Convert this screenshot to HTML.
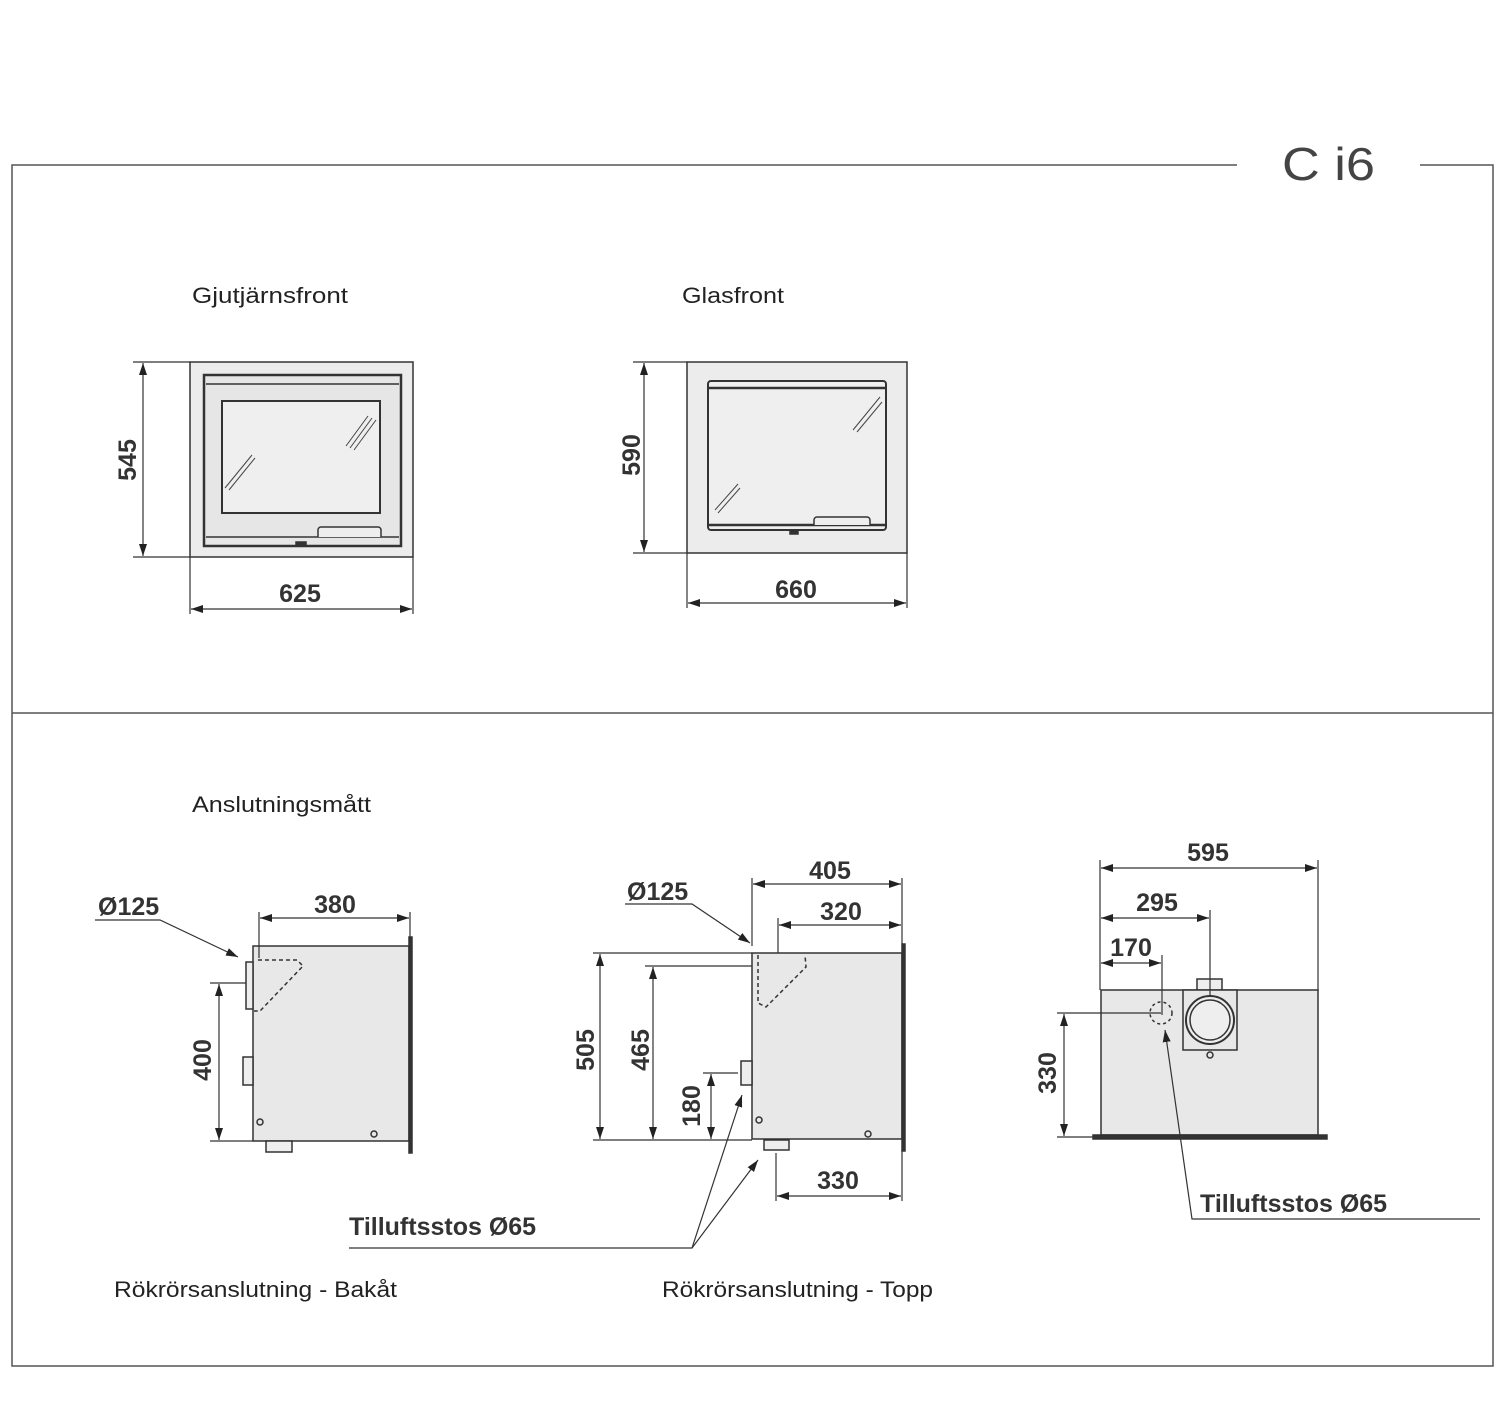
<!DOCTYPE html>
<html><head><meta charset="utf-8"><style>
html,body{margin:0;padding:0;background:#fff;}
svg{display:block;}
text{font-family:"Liberation Sans","DejaVu Sans",sans-serif;fill:#222;}
.lbl{font-size:22px;}
.dim{font-size:25px;font-weight:bold;fill:#333;}
</style></head><body>
<svg width="1500" height="1427" viewBox="0 0 1500 1427" xmlns="http://www.w3.org/2000/svg">
<defs>
<marker id="a" viewBox="0 0 12 8" refX="12" refY="4" markerWidth="12" markerHeight="8" orient="auto-start-reverse" markerUnits="userSpaceOnUse"><path d="M0,0 L12,4 L0,8 Z" fill="#222"/></marker>
</defs>
<g stroke="#555" stroke-width="1.5" fill="none">
<polyline points="1237,165 12,165 12,1366 1493,1366 1493,165 1420,165"/>
<line x1="12" y1="713" x2="1493" y2="713"/>
</g>
<text x="1282" y="180" textLength="93" lengthAdjust="spacingAndGlyphs" style="font-size:46px;font-weight:300;fill:#444">C i6</text>

<text class="lbl" x="192" y="303" textLength="156" lengthAdjust="spacingAndGlyphs">Gjutjärnsfront</text>
<text class="lbl" x="682" y="303" textLength="102" lengthAdjust="spacingAndGlyphs">Glasfront</text>
<text class="lbl" x="192" y="812" textLength="179" lengthAdjust="spacingAndGlyphs">Anslutningsmått</text>
<text class="lbl" x="114" y="1297" textLength="283" lengthAdjust="spacingAndGlyphs">Rökrörsanslutning - Bakåt</text>
<text class="lbl" x="662" y="1297" textLength="271" lengthAdjust="spacingAndGlyphs">Rökrörsanslutning - Topp</text>

<!-- Front 1 -->
<g stroke="#333" stroke-width="1.5">
<rect x="190" y="362" width="223" height="195" fill="#ececec"/>
<rect x="204" y="375" width="197" height="171" fill="#e6e6e6" stroke-width="2.5"/>
<line x1="206" y1="384" x2="399" y2="384"/>
<line x1="206" y1="537" x2="399" y2="537"/>
<rect x="222" y="401" width="158" height="112" fill="#efefef" stroke-width="2"/>
<path d="M318,537 V530 a3,3 0 0 1 3,-3 H378 a3,3 0 0 1 3,3 V537" fill="#eee"/>
<rect x="296" y="542" width="10" height="4" fill="#333"/>
</g>
<g stroke="#444" stroke-width="1"><line x1="350" y1="448" x2="372" y2="418"/><line x1="354" y1="450" x2="376" y2="420"/><line x1="346" y1="446" x2="368" y2="416"/><line x1="225" y1="488" x2="252" y2="455"/><line x1="229" y1="490" x2="255" y2="458"/></g>
<g stroke="#333" stroke-width="1.2" fill="none">
<line x1="133" y1="362" x2="190" y2="362"/><line x1="133" y1="557" x2="190" y2="557"/>
<line x1="143" y1="363" x2="143" y2="556" marker-start="url(#a)" marker-end="url(#a)"/>
<line x1="190" y1="557" x2="190" y2="614"/><line x1="413" y1="557" x2="413" y2="614"/>
<line x1="191" y1="609" x2="412" y2="609" marker-start="url(#a)" marker-end="url(#a)"/>
</g>
<text class="dim" transform="translate(136,460) rotate(-90)" text-anchor="middle">545</text>
<text class="dim" x="300" y="602" text-anchor="middle">625</text>

<!-- Front 2 -->
<g stroke="#333" stroke-width="1.5">
<rect x="687" y="362" width="220" height="191" fill="#ececec"/>
<rect x="708" y="381" width="178" height="149" fill="#efefef" stroke-width="2" rx="3"/>
<line x1="708" y1="388" x2="886" y2="388" stroke-width="2.5"/>
<line x1="708" y1="525" x2="886" y2="525" stroke-width="2.5"/>
<path d="M814,525 V520 a3,3 0 0 1 3,-3 H867 a3,3 0 0 1 3,3 V525" fill="#eee"/>
<rect x="790" y="531" width="8" height="3" fill="#333"/>
</g>
<g stroke="#444" stroke-width="1"><line x1="853" y1="430" x2="880" y2="397"/><line x1="857" y1="432" x2="882" y2="402"/><line x1="715" y1="510" x2="738" y2="484"/><line x1="718" y1="513" x2="740" y2="488"/></g>
<g stroke="#333" stroke-width="1.2" fill="none">
<line x1="633" y1="362" x2="687" y2="362"/><line x1="633" y1="553" x2="687" y2="553"/>
<line x1="644" y1="363" x2="644" y2="552" marker-start="url(#a)" marker-end="url(#a)"/>
<line x1="687" y1="553" x2="687" y2="608"/><line x1="907" y1="553" x2="907" y2="608"/>
<line x1="688" y1="603" x2="906" y2="603" marker-start="url(#a)" marker-end="url(#a)"/>
</g>
<text class="dim" transform="translate(640,455) rotate(-90)" text-anchor="middle">590</text>
<text class="dim" x="796" y="598" text-anchor="middle">660</text>

<!-- Side view 1 -->
<g stroke="#333" stroke-width="1.5">
<rect x="253" y="946" width="156" height="195" fill="#e8e8e8"/>
<rect x="409" y="937" width="3" height="216" fill="#333"/>
<rect x="246" y="962" width="7" height="47" fill="#eee"/>
<rect x="243" y="1057" width="10" height="28" fill="#eee"/>
<rect x="266" y="1141" width="26" height="11" fill="#eee"/>
<circle cx="260" cy="1122" r="3" fill="none"/><circle cx="374" cy="1134" r="3" fill="none"/>
<path d="M258,960 H297 L303,966 L260,1011 H254" fill="none" stroke-dasharray="4,3"/>
</g>
<g stroke="#333" stroke-width="1.2" fill="none">
<line x1="259" y1="912" x2="259" y2="958"/><line x1="410" y1="912" x2="410" y2="937"/>
<line x1="260" y1="918" x2="409" y2="918" marker-start="url(#a)" marker-end="url(#a)"/>
<line x1="210" y1="983" x2="246" y2="983"/><line x1="210" y1="1141" x2="253" y2="1141"/>
<line x1="219" y1="984" x2="219" y2="1140" marker-start="url(#a)" marker-end="url(#a)"/>
<polyline points="95,920 160,920 238,957" marker-end="url(#a)"/>
</g>
<text class="dim" x="335" y="913" text-anchor="middle">380</text>
<text class="dim" x="98" y="915">Ø125</text>
<text class="dim" transform="translate(211,1060) rotate(-90)" text-anchor="middle">400</text>

<!-- Side view 2 -->
<g stroke="#333" stroke-width="1.5">
<rect x="752" y="953" width="150" height="186" fill="#e8e8e8"/>
<rect x="902" y="944" width="3" height="207" fill="#333"/>
<rect x="741" y="1061" width="11" height="24" fill="#eee"/>
<rect x="764" y="1140" width="25" height="10" fill="#eee"/>
<circle cx="759" cy="1120" r="3" fill="none"/><circle cx="868" cy="1134" r="3" fill="none"/>
<path d="M758,955 V1003 L766,1007 L806,967 L805,955" fill="none" stroke-dasharray="4,3"/>
</g>
<g stroke="#333" stroke-width="1.2" fill="none">
<line x1="752" y1="878" x2="752" y2="946"/><line x1="902" y1="878" x2="902" y2="944"/>
<line x1="753" y1="884" x2="901" y2="884" marker-start="url(#a)" marker-end="url(#a)"/>
<line x1="778" y1="918" x2="778" y2="953"/>
<line x1="779" y1="925" x2="901" y2="925" marker-start="url(#a)" marker-end="url(#a)"/>
<line x1="593" y1="953" x2="752" y2="953"/><line x1="593" y1="1140" x2="752" y2="1140"/>
<line x1="600" y1="954" x2="600" y2="1139" marker-start="url(#a)" marker-end="url(#a)"/>
<line x1="645" y1="966" x2="752" y2="966"/>
<line x1="653" y1="967" x2="653" y2="1139" marker-start="url(#a)" marker-end="url(#a)"/>
<line x1="703" y1="1073" x2="738" y2="1073"/>
<line x1="711" y1="1074" x2="711" y2="1139" marker-start="url(#a)" marker-end="url(#a)"/>
<line x1="776" y1="1153" x2="776" y2="1201"/><line x1="902" y1="1151" x2="902" y2="1201"/>
<line x1="777" y1="1196" x2="901" y2="1196" marker-start="url(#a)" marker-end="url(#a)"/>
<polyline points="625,904 692,904 750,943" marker-end="url(#a)"/>
<polyline points="349,1248 692,1248 742,1095" marker-end="url(#a)"/>
<line x1="692" y1="1248" x2="758" y2="1160" marker-end="url(#a)"/>
</g>
<text class="dim" x="830" y="879" text-anchor="middle">405</text>
<text class="dim" x="841" y="920" text-anchor="middle">320</text>
<text class="dim" x="627" y="900">Ø125</text>
<text class="dim" transform="translate(594,1050) rotate(-90)" text-anchor="middle">505</text>
<text class="dim" transform="translate(649,1050) rotate(-90)" text-anchor="middle">465</text>
<text class="dim" transform="translate(700,1106) rotate(-90)" text-anchor="middle">180</text>
<text class="dim" x="838" y="1189" text-anchor="middle">330</text>
<text class="dim" x="349" y="1235">Tilluftsstos Ø65</text>

<!-- Top view right -->
<g stroke="#333" stroke-width="1.5">
<rect x="1101" y="990" width="217" height="145" fill="#e8e8e8"/>
<rect x="1093" y="1135" width="234" height="4" fill="#333"/>
<rect x="1197" y="979" width="25" height="11" fill="#eee"/>
<rect x="1183" y="990" width="54" height="60" fill="#e8e8e8"/>
<circle cx="1210" cy="1020" r="24" fill="#eee" stroke-width="2"/>
<circle cx="1210" cy="1020" r="20" fill="none"/>
<circle cx="1161" cy="1013" r="11" fill="none" stroke-dasharray="3,3"/>
<circle cx="1210" cy="1055" r="3" fill="none"/>
</g>
<g stroke="#333" stroke-width="1.2" fill="none">
<line x1="1100" y1="860" x2="1100" y2="990"/><line x1="1318" y1="860" x2="1318" y2="990"/>
<line x1="1101" y1="868" x2="1317" y2="868" marker-start="url(#a)" marker-end="url(#a)"/>
<line x1="1210" y1="910" x2="1210" y2="995"/>
<line x1="1101" y1="918" x2="1209" y2="918" marker-start="url(#a)" marker-end="url(#a)"/>
<line x1="1162" y1="955" x2="1162" y2="1015"/>
<line x1="1101" y1="963" x2="1161" y2="963" marker-start="url(#a)" marker-end="url(#a)"/>
<line x1="1057" y1="1013" x2="1161" y2="1013"/><line x1="1057" y1="1137" x2="1100" y2="1137"/>
<line x1="1064" y1="1014" x2="1064" y2="1136" marker-start="url(#a)" marker-end="url(#a)"/>
<polyline points="1480,1219 1192,1219 1165,1030" marker-end="url(#a)"/>
</g>
<text class="dim" x="1208" y="861" text-anchor="middle">595</text>
<text class="dim" x="1157" y="911" text-anchor="middle">295</text>
<text class="dim" x="1131" y="956" text-anchor="middle">170</text>
<text class="dim" transform="translate(1056,1073) rotate(-90)" text-anchor="middle">330</text>
<text class="dim" x="1200" y="1212">Tilluftsstos Ø65</text>
</svg>
</body></html>
